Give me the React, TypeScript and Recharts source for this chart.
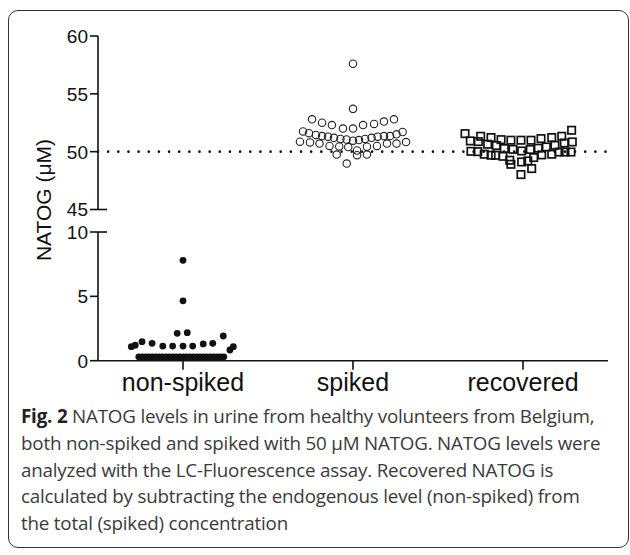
import React from 'react';
import { ScatterChart, Scatter, XAxis, YAxis, ReferenceLine } from 'recharts';

// categories and axis ticks
const groups = ['non-spiked', 'spiked', 'recovered'];
const upperTicks = [45, 50, 55, 60];
const lowerTicks = [0, 5, 10];
const spikeLevel = 50;

// NATOG (µM) per volunteer, with the horizontal spread of the dot plot (in category widths)
const nonSpikedValues = [
  7.8, 4.65, 2.13, 2.18, 1.92, 1.09, 1.2, 1.48, 1.35, 1.14, 1.14, 1.14, 1.14, 1.3, 1.35, 0.83, 1.09,
  0.3, 0.3, 0.3, 0.3, 0.3, 0.3, 0.3, 0.3, 0.3, 0.3, 0.3, 0.3, 0.3, 0.3, 0.3, 0.3, 0.3, 0.3, 0.3, 0.3,
  0.3, 0.3, 0.3, 0.3, 0.3, 0.3,
];
const nonSpikedJitter = [
  0, 0, -0.034, 0.025, 0.237, -0.304, -0.281, -0.241, -0.182, -0.119, -0.061, 0, 0.057, 0.119, 0.175,
  0.276, 0.296,
  -0.26, -0.24, -0.22, -0.2, -0.18, -0.16, -0.14, -0.12, -0.1, -0.08, -0.06, -0.04, -0.02, 0, 0.02,
  0.04, 0.06, 0.08, 0.1, 0.12, 0.14, 0.16, 0.18, 0.2, 0.22, 0.24,
];

const spikedValues = [
  57.6, 53.7,
  52.8, 52.5, 52.3, 52.0, 52.0, 52.3, 52.4, 52.6, 52.8,
  51.75, 51.6, 51.45, 51.35, 51.3, 51.2, 51.1, 51.05, 50.95, 51.0, 51.1, 51.2, 51.3, 51.35, 51.35, 51.5, 51.7,
  50.86, 50.8, 50.7, 50.5, 50.45, 50.4, 50.43, 50.5, 50.7, 50.7, 50.83,
  49.75, 50.1, 49.7, 49.75, 48.97,
];
const spikedJitter = [
  0, 0,
  -0.241, -0.182, -0.124, -0.059, 0, 0.059, 0.124, 0.182, 0.241,
  -0.294, -0.259, -0.218, -0.182, -0.147, -0.112, -0.074, -0.038, 0, 0.035, 0.071, 0.109, 0.145, 0.182, 0.218, 0.256, 0.292,
  -0.312, -0.253, -0.197, -0.138, -0.081, -0.028, 0.082, 0.141, 0.2, 0.256, 0.312,
  -0.096, 0.024, 0.024, 0.082, -0.037,
];

const recoveredValues = [
  51.56, 50.93, 50.03, 51.33, 50.87, 50.0, 51.22, 50.64, 49.78, 51.04, 50.53, 49.69, 49.69, 50.27,
  49.6, 50.99, 50.2, 49.26, 48.91, 50.99, 50.06, 49.11, 48.02, 50.99, 50.19, 49.2, 48.54, 51.13,
  50.3, 49.49, 51.22, 50.41, 49.72, 51.33, 50.55, 49.78, 50.75, 49.97, 51.85, 50.84, 49.97, 49.97,
];
const recoveredJitter = [
  -0.341, -0.31, -0.306, -0.249, -0.263, -0.266, -0.188, -0.208, -0.228, -0.129, -0.157, -0.188,
  -0.161, -0.11, -0.118, -0.071, -0.059, -0.078, -0.071, -0.012, -0.008, -0.008, -0.012, 0.047,
  0.043, 0.028, 0.051, 0.106, 0.09, 0.063, 0.169, 0.137, 0.11, 0.228, 0.188, 0.169, 0.243, 0.212,
  0.286, 0.29, 0.282, 0.247,
];

const captionLines = [
  'NATOG levels in urine from healthy volunteers from Belgium,',
  'both non-spiked and spiked with 50 μM NATOG. NATOG levels were',
  'analyzed with the LC-Fluorescence assay. Recovered NATOG is',
  'calculated by subtracting the endogenous level (non-spiked) from',
  'the total (spiked) concentration',
];

const toPoints = (values: number[], jitter: number[], group: number) =>
  values.map((v, i) => ({ x: group + 0.5 + jitter[i], y: v }));

const nonSpikedData = toPoints(nonSpikedValues, nonSpikedJitter, 0);
const spikedData = toPoints(spikedValues, spikedJitter, 1);
const recoveredData = toPoints(recoveredValues, recoveredJitter, 2);

const FONT = '"Liberation Sans", Arial, sans-serif';
const INK = '#111';

const makeYTick = (breakValue: number) => (props: any) => {
  const { x, y, payload } = props;
  const axisX = x + 10;
  const isBreak = payload.value === breakValue;
  return (
    <g>
      <line x1={axisX - 8} x2={isBreak ? axisX + 9 : axisX} y1={y} y2={y} stroke={INK} strokeWidth={1.6} />
      <text x={x} y={y} dy="0.36em" textAnchor="end" fontSize={19} fontFamily={FONT} fill={INK}>
        {payload.value}
      </text>
    </g>
  );
};

const OpenCircle = (props: any) => (
  <circle cx={props.cx} cy={props.cy} r={3.7} fill="none" stroke="#222" strokeWidth={1.1} />
);
const OpenSquare = (props: any) => (
  <rect x={props.cx - 3.7} y={props.cy - 3.7} width={7.4} height={7.4} fill="none" stroke={INK} strokeWidth={1.7} />
);
const FilledDot = (props: any) => <circle cx={props.cx} cy={props.cy} r={3.4} fill={INK} />;

export default function App() {
  return (
    <div style={{ position: 'absolute', left: 0, top: 0, width: 630, height: 555, background: '#fff' }}>
      <div
        style={{
          position: 'absolute',
          left: 8,
          top: 10,
          width: 621,
          height: 538,
          border: '1.5px solid #333',
          borderRadius: 10,
          boxSizing: 'border-box',
        }}
      />

      {/* upper segment 45-60 */}
      <div style={{ position: 'absolute', left: 0, top: 0 }}>
        <ScatterChart width={630} height={221} margin={{ top: 36, right: 22, bottom: 11.5, left: 0 }}>
          <XAxis type="number" dataKey="x" domain={[0, 3]} hide />
          <YAxis
            type="number"
            dataKey="y"
            domain={[45, 60]}
            ticks={upperTicks}
            width={98}
            tickSize={7}
            tickMargin={3}
            tickLine={false}
            axisLine={{ stroke: INK, strokeWidth: 1.6 }}
            tick={makeYTick(45)}
            interval={0}
          />
          <ReferenceLine
            y={spikeLevel}
            stroke={INK}
            strokeWidth={2.6}
            strokeDasharray="0 10.15"
            strokeLinecap="round"
          />
          <Scatter data={spikedData} shape={OpenCircle} isAnimationActive={false} />
          <Scatter data={recoveredData} shape={OpenSquare} isAnimationActive={false} />
        </ScatterChart>
      </div>

      {/* lower segment 0-10 */}
      <div style={{ position: 'absolute', left: 0, top: 221 }}>
        <ScatterChart width={630} height={184} margin={{ top: 11, right: 22, bottom: 0, left: 0 }}>
          <XAxis
            type="number"
            dataKey="x"
            domain={[0, 3]}
            ticks={[0.5, 1.5, 2.5]}
            interval={0}
            height={44.3}
            tickSize={9}
            tickMargin={4}
            tickFormatter={(v: number) => groups[Math.floor(v)]}
            tick={{ fontSize: 25, fontFamily: FONT, fill: INK }}
            tickLine={{ stroke: INK, strokeWidth: 1.6 }}
            axisLine={{ stroke: INK, strokeWidth: 1.6 }}
          />
          <YAxis
            type="number"
            dataKey="y"
            domain={[0, 10]}
            ticks={lowerTicks}
            width={98}
            tickSize={7}
            tickMargin={3}
            tickLine={false}
            axisLine={{ stroke: INK, strokeWidth: 1.6 }}
            tick={makeYTick(10)}
            interval={0}
          />
          <Scatter data={nonSpikedData} shape={FilledDot} isAnimationActive={false} />
        </ScatterChart>
      </div>

      <svg width={630} height={555} style={{ position: 'absolute', left: 0, top: 0, pointerEvents: 'none' }}>
        <text
          transform="translate(51 200) rotate(-90)"
          textAnchor="middle"
          fontSize={21}
          fontFamily={FONT}
          fill={INK}
        >
          NATOG (μM)
        </text>
      </svg>

      <div
        style={{
          position: 'absolute',
          left: 21,
          top: 403,
          fontFamily: '"Open Sans", "Noto Sans", sans-serif',
          fontSize: 18.8,
          letterSpacing: -0.2,
          lineHeight: '26.8px',
          color: '#3a3a3a',
          whiteSpace: 'nowrap',
        }}
      >
        {captionLines.map((line, i) => (
          <div key={i}>
            {i === 0 && <b style={{ color: '#222' }}>Fig. 2 </b>}
            {line}
          </div>
        ))}
      </div>
    </div>
  );
}
